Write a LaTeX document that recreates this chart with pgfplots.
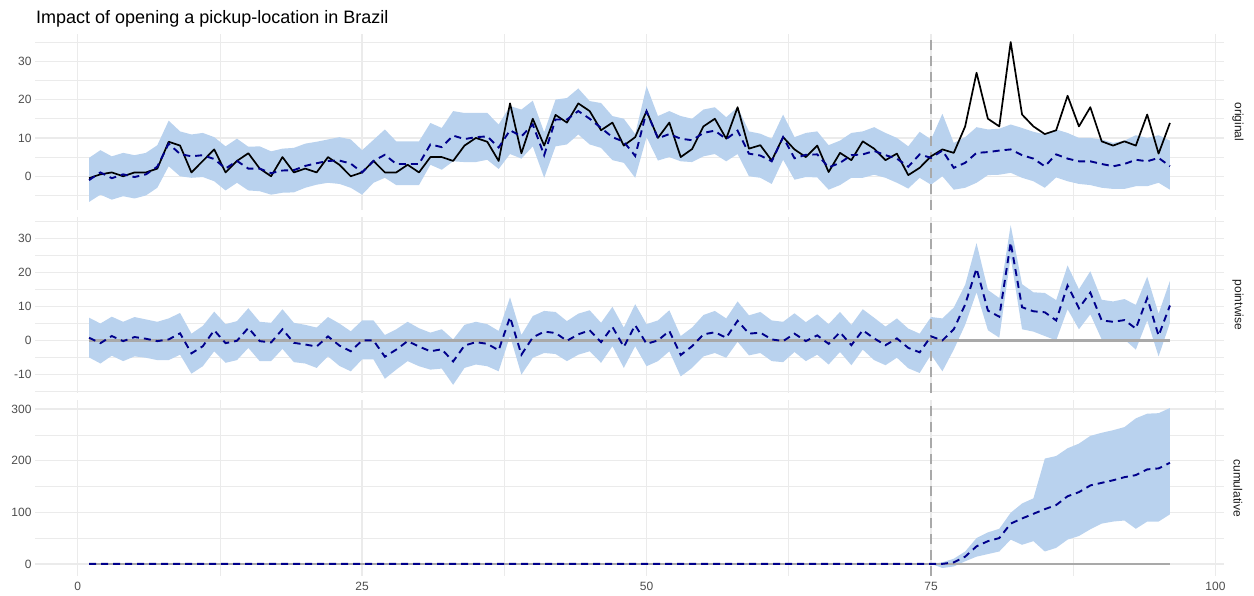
\documentclass[border=0pt]{standalone}
\usepackage{pgfplots}
\pgfplotsset{compat=1.18}
\usepackage{pgfplotstable}
\usepgfplotslibrary{fillbetween}
\usepackage{fontspec}
\setmainfont{Liberation Sans}
\definecolor{bandblue}{RGB}{185,210,238}
\definecolor{predblue}{RGB}{0,0,139}
\definecolor{gridgray}{RGB}{235,235,235}
\definecolor{zerogray}{RGB}{169,169,169}
\definecolor{ticktext}{RGB}{77,77,77}
\definecolor{striptext}{RGB}{26,26,26}

\pgfplotstableread{
t y pred lo hi pw pwlo pwhi cum
1 -0.5 -1 -6.7 4.8 0.8 -5 6.7 0
2 0.5 1 -4.8 6.8 -0.8 -6.8 5 0
3 1 -0.5 -6.1 5.2 1.3 -4.5 7 0
4 0 0.5 -5.2 6.1 -0.2 -6.1 5.5 0
5 1 -0.2 -5.8 5.5 1 -4.7 6.9 0
6 1 0.5 -5 6.1 0.5 -5.1 6.2 0
7 2 2.5 -3 8.1 -0.2 -5.8 5.5 0
8 9 8.5 2.6 14.5 0.3 -5.8 6.5 0
9 8 5.8 0 11.7 2.1 -4.2 8.1 0
10 1 5.2 -0.4 10.9 -3.8 -9.8 2 0
11 4 5.5 -0.2 11.3 -1.7 -7.6 4.3 0
12 7 4.5 -1.3 10.2 3 -3.2 8.5 0
13 1 2 -3.7 7.8 -0.8 -6.6 4.8 0
14 4 4 -1.7 9.8 -0.1 -5.8 5.7 0
15 6 2 -3.7 7.7 3.7 -2.2 9.5 0
16 2 2 -3.9 7.8 -0.2 -6.1 5.5 0
17 0 0.8 -4.8 6.5 -0.6 -6.1 5.2 0
18 5 1.5 -4.3 7.2 3.3 -2.5 9.2 0
19 1 1.6 -4.2 7.4 -0.7 -6.4 5.2 0
20 2 2.7 -3 8.5 -1.2 -6.8 4.6 0
21 1 3.4 -2.2 9 -1.8 -8.1 3.8 0
22 5 4 -1.7 9.6 1.2 -4.7 6.9 0
23 3 4.1 -2 10.2 -1.5 -7.5 5 0
24 0 3.3 -3 9.6 -3.2 -9.1 2.7 0
25 1 1 -4.8 6.8 0 -5.6 5.9 0
26 4 4 -1.7 9.5 0 -5.6 5.9 0
27 1 5.6 -0.4 12.2 -4.8 -11.3 1.6 0
28 1 3.2 -2.3 9.1 -2.7 -8.6 3.3 0
29 3 3.2 -2.3 9.1 -0.2 -6.1 5.5 0
30 1 3.2 -2.3 9.1 -1.8 -7.6 3.6 0
31 5 8.3 3 13.9 -3.2 -8.6 2.3 0
32 5 7.6 1.7 12.6 -2.6 -8.3 3.3 0
33 4 10.6 3.9 17 -6.2 -13.1 0.3 0
34 8 9.7 3.7 16.5 -1.5 -8.1 4.6 0
35 10 10.2 3.7 16.5 -0.5 -7.1 5.5 0
36 9 10.4 4.3 16.5 -1 -7.6 4.8 0
37 4 7.5 1.9 13.5 -2.9 -9.1 2.8 0
38 19 12 5.8 18.3 6.9 1.3 12.7 0
39 6 10.4 4.6 17.4 -4.2 -10.1 1.6 0
40 15 13.5 7.8 19.7 0.9 -5.1 7.2 0
41 8 5.5 -0.4 11.5 2.6 -3.7 8.7 0
42 16 14.8 7.8 20 2.2 -4 8.4 0
43 14 14.8 8.3 20.4 -0.1 -6.1 5.7 0
44 19 17 10.9 22.9 1.8 -4.2 7.9 0
45 17 15 8.3 19.6 3 -3.2 8.9 0
46 12 12.6 7.4 19.1 -0.5 -6.6 5.2 0
47 14 10.2 4.2 15.7 4 -1.7 9.9 0
48 8 9 3.5 15 -1.9 -8.1 3.8 0
49 10.2 5.3 -0.4 11 4.5 -1.7 10.7 0
50 17 16.9 10.2 23.5 -1 -7.6 4.8 0
51 10 9.9 4.1 15.7 0 -6.1 5.9 0
52 14 11 5 17 2.8 -3.2 8.9 0
53 5 9.8 3.9 15.7 -4.3 -10.6 1.3 0
54 7.1 9.4 3.7 15 -1.7 -8.1 3.8 0
55 13 11.3 5.2 17.4 1.8 -4.7 7.5 0
56 15 11.9 5.8 18 2.4 -3.7 8.7 0
57 9.8 9.7 3.9 15.4 0.8 -5.1 6.5 0
58 18 11.9 5.8 18 5.8 -0.4 11.5 0
59 7.2 5.9 0 11.7 2 -4.4 7.4 0
60 8.1 5.4 -0.4 11.1 2.3 -3.7 8.4 0
61 4.1 3.9 -2 9.8 0.3 -6.1 5.9 0
62 10.2 10.2 4.3 16.1 -0.2 -6.4 5.5 0
63 7 4.7 -0.9 10.2 2 -3.4 8 0
64 5 5.6 -0.2 11.3 -0.2 -6.1 5.4 0
65 8 5.7 -0.3 11.7 1.5 -4.2 7.7 0
66 1.1 2.3 -3.5 8.1 -1 -7.1 4.8 0
67 6.1 3.5 -2.3 9.3 2.4 -3.4 8.4 0
68 4.2 5.5 -0.4 11.3 -1.4 -7.3 4.6 0
69 9.1 5.7 -0.4 11.7 3 -2.7 9.2 0
70 7.2 6.6 0.4 12.8 0.6 -5.8 6.7 0
71 4.2 5.5 -0.4 11.3 -1.4 -7.3 4.1 0
72 5.9 4.6 -1.7 10 0.6 -5.1 6.5 0
73 0.3 2.5 -3.2 7.8 -2.2 -8.2 3.5 0
74 2.2 5.7 -0.4 11.6 -3.5 -9.6 2 0
75 5.2 4.8 -2.2 9.6 1.2 -4.2 6.9 0
76 7 6.7 0 16.3 0 -9.1 6.5 0
77 6.1 2.2 -3.5 8.7 3.3 -2.7 9.7 3
78 13 3.5 -3 10.2 10.6 4.6 16.4 14
79 27 6.1 -1.7 12.8 21.2 14.2 28.7 34
80 15 6.3 0.3 12.2 8.8 3 14.9 44
81 13 6.7 0.4 12.4 7 0.8 12.5 50
82 35 7 0.9 13.5 28.9 24.6 34 78
83 16.1 5.5 -0.4 12.6 9.8 3.3 16.6 88
84 13 4.6 -1.3 11.6 8.6 2.6 14.2 97
85 11 2.6 -3 10.9 8.3 1.3 14 106
86 12 5.7 -0.3 12.2 5.9 0 11.9 114
87 21 4.6 -1.3 11.3 16.2 9.2 22.1 131
88 13 3.9 -2 10 9.5 3.3 15.1 139
89 18 3.9 -2.3 10 14.1 7.7 20.4 152
90 9.1 3.2 -3 9.6 5.9 0.3 12 157
91 8 2.6 -3.3 8.7 5.5 -0.4 11.5 162
92 9.1 3.2 -3.3 9.3 6 0.3 12.2 168
93 8 4.3 -2.6 10.7 3.5 -2.7 10.5 172
94 16.1 3.9 -2.6 10 12.5 5.9 18.8 183
95 5.9 4.8 -1.7 10.7 1.4 -4.7 7.9 185
96 13.9 2.6 -3.5 9.3 10.3 5.2 17.6 196
}\dat

\pgfplotstableread{
t clo chi
75 0 0
76 -8 3
77 -5 10
78 5 24
79 14 50
80 19 61
81 24 68
82 47 99
83 37 117
84 44 127
85 24 204
86 31 209
87 47 224
88 54 233
89 67 248
90 78 254
91 82 259
92 84 265
93 68 282
94 82 291
95 82 292
96 96 302
}\cumband

\pgfplotsset{
  panel/.style={
    scale only axis, width=1189pt, height=176pt,
    xmin=-3.75, xmax=100.75,
    anchor=north west,
    axis line style={draw=none},
    tick style={draw=none},
    grid=both,
    major grid style={gridgray, line width=1.3pt},
    minor grid style={gridgray, line width=0.65pt},
    xtick={0,25,50,75,100},
    minor xtick={12.5,37.5,62.5,87.5},
    ticklabel style={font=\fontsize{12}{14}\selectfont, text=ticktext},
    xticklabel style={yshift=-3pt},
    no markers,
  },
  predline/.style={predblue, line width=1.9pt, dash pattern=on 7pt off 5pt},
  vline/.style={zerogray, line width=2pt, dash pattern=on 10pt off 6pt},
}

\begin{document}
\begin{tikzpicture}[x=1pt,y=1pt]
\path (0,0) rectangle (1254,-595);
\node[anchor=base west, font=\fontsize{18}{21}\selectfont, inner sep=0pt] at (36,-23) {Impact of opening a pickup-location in Brazil};

% original
\begin{axis}[panel, at={(35pt,-34pt)}, ymin=-8.8, ymax=37.1,
  ytick={0,10,20,30}, yticklabels={0,10,20,30}, minor ytick={-5,5,15,25,35},
  xticklabels={}]
\addplot[name path=hi, draw=none] table[x=t,y=hi]{\dat};
\addplot[name path=lo, draw=none] table[x=t,y=lo]{\dat};
\addplot[fill=bandblue, draw=none] fill between[of=hi and lo];
\addplot[vline] coordinates {(75,-8.8) (75,37.1)};
\addplot[black, line width=1.7pt, line join=round] table[x=t,y=y]{\dat};
\addplot[predline] table[x=t,y=pred]{\dat};
\end{axis}

% pointwise
\begin{axis}[panel, at={(35pt,-217pt)}, ymin=-15.5, ymax=36.4,
  ytick={-10,0,10,20,30}, yticklabels={-10,0,10,20,30}, minor ytick={-15,-5,5,15,25,35},
  xticklabels={}]
\addplot[name path=hi, draw=none] table[x=t,y=pwhi]{\dat};
\addplot[name path=lo, draw=none] table[x=t,y=pwlo]{\dat};
\addplot[fill=bandblue, draw=none] fill between[of=hi and lo];
\addplot[zerogray, line width=2.2pt] coordinates {(1,0) (96,0)};
\addplot[vline] coordinates {(75,-15.5) (75,36.4)};
\addplot[predline] table[x=t,y=pw]{\dat};
\end{axis}

% cumulative
\begin{axis}[panel, at={(35pt,-400pt)}, ymin=-23.5, ymax=317.5,
  ytick={0,100,200,300}, yticklabels={0,100,200,300}, minor ytick={50,150,250},
  xticklabels={0,25,50,75,100}]
\addplot[name path=hi, draw=none] table[x=t,y=chi]{\cumband};
\addplot[name path=lo, draw=none] table[x=t,y=clo]{\cumband};
\addplot[fill=bandblue, draw=none] fill between[of=hi and lo];
\addplot[zerogray, line width=2.2pt] coordinates {(1,0) (96,0)};
\addplot[vline] coordinates {(75,-23.5) (75,317.5)};
\addplot[predline] table[x=t,y=cum]{\dat};
\end{axis}

\node[rotate=-90, font=\fontsize{12}{14}\selectfont, text=striptext] at (1238,-122) {original};
\node[rotate=-90, font=\fontsize{12}{14}\selectfont, text=striptext] at (1238,-305) {pointwise};
\node[rotate=-90, font=\fontsize{12}{14}\selectfont, text=striptext] at (1238,-488) {cumulative};
\end{tikzpicture}
\end{document}
